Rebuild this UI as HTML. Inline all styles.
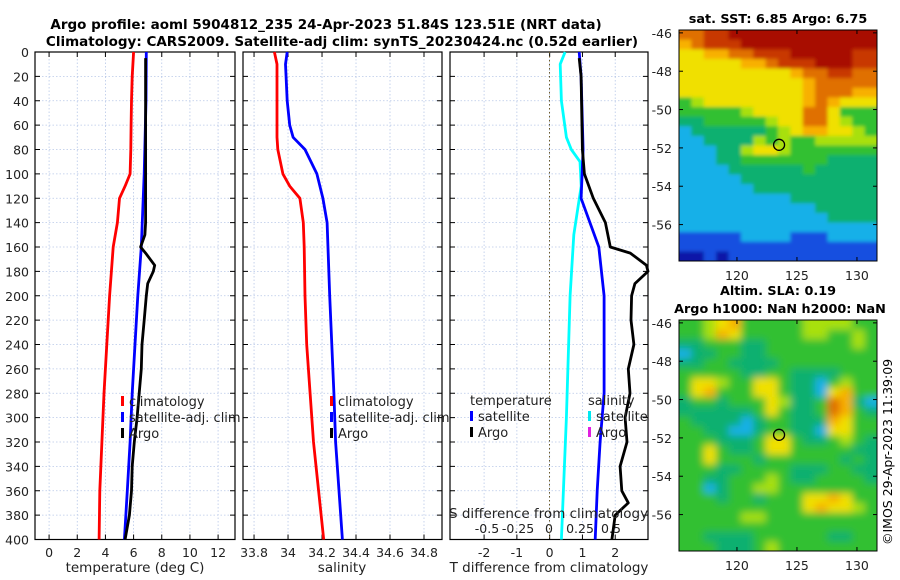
<!DOCTYPE html>
<html><head><meta charset="utf-8"><style>
body{margin:0;background:#fff}
svg{display:block;font-family:"DejaVu Sans","Liberation Sans",sans-serif}
</style></head><body>
<svg id="c" width="900" height="580" viewBox="0 0 900 580">
<defs>
<filter id="b1" x="-10%" y="-10%" width="120%" height="120%"><feGaussianBlur stdDeviation="1.8"/></filter>
<filter id="b2" x="-10%" y="-10%" width="120%" height="120%"><feGaussianBlur stdDeviation="4"/></filter>
<clipPath id="cp1"><rect x="679" y="30" width="198" height="231"/></clipPath>
<clipPath id="cp2"><rect x="679" y="320" width="198" height="231"/></clipPath>
</defs>
<text x="326" y="29" font-size="13.5" font-weight="bold" text-anchor="middle">Argo profile: aoml 5904812_235 24-Apr-2023 51.84S 123.51E (NRT data)</text>
<text x="342" y="46" font-size="13.5" font-weight="bold" text-anchor="middle">Climatology: CARS2009. Satellite-adj clim: synTS_20230424.nc (0.52d earlier)</text>
<text x="778" y="23" font-size="12.8" font-weight="bold" text-anchor="middle">sat. SST: 6.85 Argo: 6.75</text>
<text x="778" y="295" font-size="12.8" font-weight="bold" text-anchor="middle">Altim. SLA: 0.19</text>
<text x="780" y="313" font-size="12.8" font-weight="bold" text-anchor="middle">Argo h1000: NaN h2000: NaN</text>
<text transform="translate(892,545) rotate(-90)" font-size="12.5">©IMOS 29-Apr-2023 11:39:09</text>
<g id="g"></g>
</svg>
<script>
// ---- data ----
const depthTicks=[0,20,40,60,80,100,120,140,160,180,200,220,240,260,280,300,320,340,360,380,400];
const tTicks=[0,2,4,6,8,10,12];
const sTicks=[33.8,34,34.2,34.4,34.6,34.8];
const sTickLabels=["33.8","34","34.2","34.4","34.6","34.8"];
const dtTicks=[-2,-1,0,1,2];
const dsTicks=[-0.5,-0.25,0,0.25,0.5];
const dsTickLabels=["-0.5","-0.25","0","0.25","0.5"];

const climTDepth=[0,20,40,60,80,100,110,120,140,160,200,240,280,320,360,400];
const climT=[6.0,5.9,5.85,5.82,5.8,5.75,5.4,5.0,4.85,4.55,4.3,4.1,3.9,3.75,3.6,3.55];
const satTDepth=[0,40,100,160,200,240,280,320,360,400];
const satT=[6.9,6.88,6.75,6.55,6.3,6.1,5.9,5.75,5.55,5.35];
const argoTDepth=[5,40,100,140,150,160,165,175,180,190,200,220,240,260,280,300,320,340,360,380,400];
const argoT=[6.85,6.85,6.85,6.85,6.8,6.5,6.85,7.5,7.4,7.0,6.9,6.75,6.6,6.55,6.4,6.25,6.05,5.9,5.85,5.7,5.4];

const climSDepth=[0,10,40,70,80,100,110,120,140,160,200,240,280,320,360,400];
const climS=[33.92,33.935,33.935,33.935,33.94,33.97,34.01,34.07,34.09,34.095,34.1,34.11,34.13,34.15,34.18,34.21];
const satSDepth=[0,10,40,60,70,80,100,120,140,200,280,320,360,400];
const satS=[33.995,33.985,33.995,34.01,34.03,34.1,34.17,34.205,34.23,34.245,34.27,34.28,34.3,34.32];

const dSDepth=[0,10,40,70,80,90,110,150,200,300,400];
const satDS=[0.13,0.09,0.1,0.14,0.18,0.25,0.26,0.2,0.17,0.14,0.10];
const dTDepth=[0,20,80,120,160,200,240,280,320,360,400];
const satDT=[0.9,0.96,1.02,0.96,1.5,1.66,1.66,1.66,1.54,1.45,1.39];
const argoDTDepth=[5,20,80,100,120,140,160,165,175,180,190,200,220,240,260,280,300,320,340,360,370,380,400];
const argoDT=[0.9,0.96,1.0,1.06,1.33,1.7,1.85,2.46,2.95,3.0,2.6,2.5,2.48,2.57,2.4,2.45,2.3,2.36,2.15,2.2,2.4,2.0,1.9];

const sstGrid=["7788999999999999","6788899999999999","5566778889999988","5555566788899988","5555555556778877","5555555555677777","5555555555677766","3455555555676555","3333345555775333","2233333455775433","1222222345665543","1122224343344444","1112245543333333","1112233333332222","1111222222322222","1111122222222222","1111112222222222","1111111112222222","1111111111122222","1111111111112222","1111111111111111","0000011110001111","0000000000000000","ZZ0Z000000000000"];
const slaGrid=["3345633333444433","3346533333443343","2233322333333343","1223322333333333","2233222233333333","3333322332222333","3554335532213433","3563335532215633","2332333542237621","2222223532237632","3222212332226533","3322112332215533","3332223553223432","3353223553333322","3353332333333232","3332233332223322","3322333432233332","3312334433333333","3332332333556533","3333333333565543","3333344333333333","3333333333333333","3322223333332233","3332223433333333"];
const lonTicks=[120,125,130];
const latTicks=[-46,-48,-50,-52,-54,-56];
const floatLon=123.51, floatLat=-51.84;

// ---- drawing ----
const NS="http://www.w3.org/2000/svg";
const G=document.getElementById('g');
function el(t,a,p){const e=document.createElementNS(NS,t);for(const k in a)e.setAttribute(k,a[k]);(p||G).appendChild(e);return e;}
const Y0=52,Y1=539.5;
const yD=d=>Y0+(d/400)*(Y1-Y0);
const panels=[{x0:35,x1:235,lo:-1,hi:13.2},{x0:243,x1:442,lo:33.735,hi:34.906},{x0:450,x1:648,lo:-3.04,hi:3.0}];
const sx=(p,v)=>p.x0+(v-p.lo)/(p.hi-p.lo)*(p.x1-p.x0);
const dsx=v=>549+v*124;

function frame(p,i,xt,xl){
  const f=el('g',{});
  
  
  depthTicks.forEach(d=>{
    el('line',{x1:p.x0,x2:p.x1,y1:yD(d),y2:yD(d),stroke:'#b8c8e8','stroke-width':0.8,'stroke-dasharray':'1.5,2'},f);
    el('line',{x1:p.x0,x2:p.x0+5,y1:yD(d),y2:yD(d),stroke:'#000'},f);
    el('line',{x1:p.x1-5,x2:p.x1,y1:yD(d),y2:yD(d),stroke:'#000'},f);
    if(i===0){const t=el('text',{x:29,y:yD(d)+5,'font-size':12.5,'text-anchor':'end',fill:'#222'},f);t.textContent=d;
      }
  });
  xt.forEach((v,j)=>{const x=sx(p,v);
    el('line',{x1:x,x2:x,y1:Y0,y2:Y1,stroke:'#b8c8e8','stroke-width':0.8,'stroke-dasharray':'1.5,2'},f);
    el('line',{x1:x,x2:x,y1:Y0,y2:Y0+5,stroke:'#000'},f);
    el('line',{x1:x,x2:x,y1:Y1-5,y2:Y1,stroke:'#000'},f);
    const t=el('text',{x:x,y:557,'font-size':12.5,'text-anchor':'middle',fill:'#222'},f);t.textContent=xl[j];
    
  });
  el('rect',{x:p.x0,y:Y0,width:p.x1-p.x0,height:Y1-Y0,fill:'none',stroke:'#000','stroke-width':1.2},f);
}
frame(panels[0],0,tTicks,tTicks.map(String));
frame(panels[1],1,sTicks,sTickLabels);
frame(panels[2],2,dtTicks,dtTicks.map(String));
dsTicks.forEach((v,j)=>{const t=el('text',{x:dsx(v),y:533,'font-size':12.5,'text-anchor':'middle',fill:'#222'});t.textContent=dsTickLabels[j];
  });
el('line',{x1:549.5,x2:549.5,y1:Y0,y2:Y1,stroke:'#6b5a2a','stroke-width':1,'stroke-dasharray':'1.5,2.5'});

function line(p,xs,ds,col,name,fx){
  const pts=xs.map((v,k)=>(fx?fx(v):sx(p,v)).toFixed(1)+','+yD(ds[k]).toFixed(1)).join(' ');
  const e=el('polyline',{points:pts,fill:'none',stroke:col,'stroke-width':2.8,'stroke-linejoin':'round'});
  
}
line(panels[0],climT,climTDepth,'#ff0000','temp-climatology-line');
line(panels[0],satT,satTDepth,'#0000ff','temp-satellite-line');
line(panels[0],argoT,argoTDepth,'#000','temp-argo-line');
line(panels[1],climS,climSDepth,'#ff0000','sal-climatology-line');
line(panels[1],satS,satSDepth,'#0000ff','sal-satellite-line');
line(null,satDS,dSDepth,'#00ffff','sal-diff-satellite-line',dsx);
line(panels[2],satDT,dTDepth,'#0000ff','temp-diff-satellite-line');
line(panels[2],argoDT,argoDTDepth,'#000','temp-diff-argo-line');

function legend(x,y,items,name){
  const g=el('g',{});
  items.forEach((it,k)=>{const yy=y+k*16;
    if(it[1])el('rect',{x:x,y:yy-10,width:3,height:10,fill:it[1]},g);
    const t=el('text',{x:x+(it[1]?8:0),y:yy,'font-size':13,fill:'#222'},g);t.textContent=it[0];});
}
legend(121,406,[['climatology','#ff0000'],['satellite-adj. clim','#0000ff'],['Argo','#000']],'temp-legend');
legend(330,406,[['climatology','#ff0000'],['satellite-adj. clim','#0000ff'],['Argo','#000']],'salinity-legend');
legend(470,405,[['temperature',null],['satellite','#0000ff'],['Argo','#000']],'tdiff-legend');
legend(588,405,[['salinity',null],['satellite','#00e8f0'],['Argo','#e020e0']],'sdiff-legend');
const t1=el('text',{x:449,y:518,'font-size':13.5,fill:'#222'});t1.textContent='S difference from climatology';

[['temperature (deg C)',135],['salinity',342],['T difference from climatology',549]].forEach(a=>{
  const t=el('text',{x:a[1],y:572,'font-size':13.5,'text-anchor':'middle',fill:'#222'});t.textContent=a[0];
  });

// maps
const COL={Z:'#0818a8','0':'#1850e0','1':'#18b0e8','2':'#10b070','3':'#30c030','4':'#a8e010','5':'#f0e000','6':'#f8b000','7':'#e07000','8':'#c83800','9':'#a80800'};
function map(y0,y1top,grid,name,filt,clip){
  const X0=679,X1=877,lon0=115.17,lon1=131.67;
  const mx=l=>X0+(l-lon0)/(lon1-lon0)*(X1-X0);
  const lat0=-45.85,lat1=-57.9;
  const my=l=>y0+(l-lat0)/(lat1-lat0)*(y1top-y0);
  const g=el('g',{});
  const cg=el('g',{'clip-path':'url(#'+clip+')'},g);
  const bg=el('g',{filter:'url(#'+filt+')'},cg);
  const nr=grid.length,nc=grid[0].length,cw=(X1-X0)/nc,ch=(y1top-y0)/nr,P=14;
  grid.forEach((row,r)=>{for(let c=0;c<nc;c++){
    let x=X0+c*cw,y=y0+r*ch,w=cw+0.6,h=ch+0.6;
    if(c===0){x-=P;w+=P;} if(c===nc-1){w+=P;}
    if(r===0){y-=P;h+=P;} if(r===nr-1){h+=P;}
    el('rect',{x:x,y:y,width:w,height:h,fill:COL[row[c]]},bg);}});
  el('rect',{x:X0,y:y0,width:X1-X0,height:y1top-y0,fill:'none',stroke:'#000'},g);
  lonTicks.forEach(l=>{el('line',{x1:mx(l),x2:mx(l),y1:y1top,y2:y1top-4,stroke:'#000'},g);el('line',{x1:mx(l),x2:mx(l),y1:y0,y2:y0+4,stroke:'#000'},g);
    const t=el('text',{x:mx(l),y:y1top+19,'font-size':12.5,'text-anchor':'middle',fill:'#222'},g);t.textContent=l;});
  latTicks.forEach(l=>{el('line',{x1:X0,x2:X0+4,y1:my(l),y2:my(l),stroke:'#000'},g);el('line',{x1:X1-4,x2:X1,y1:my(l),y2:my(l),stroke:'#000'},g);
    const t=el('text',{x:672,y:my(l)+5,'font-size':12.5,'text-anchor':'end',fill:'#222'},g);t.textContent=l;});
  const c=el('circle',{cx:mx(floatLon),cy:my(floatLat),r:5.5,fill:'none',stroke:'#000','stroke-width':1.3},g);
  
}
map(30,261,sstGrid,'sst-map','b1','cp1');
map(320,551,slaGrid,'sla-map','b2','cp2');
</script>
</body></html>
